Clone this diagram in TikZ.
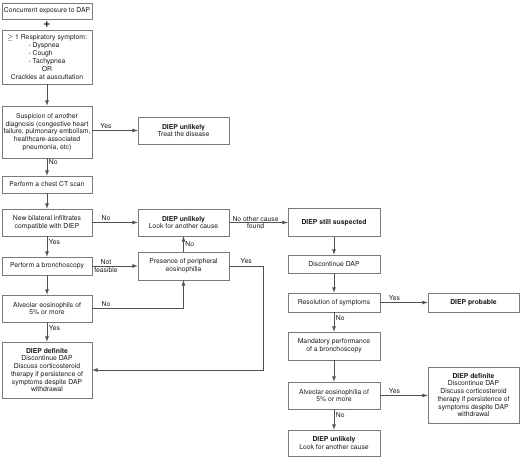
\documentclass[tikz,border=0pt]{standalone}
\usepackage{fontspec}
\setmainfont{TeX Gyre Heros}
\usepackage{tikz}

\definecolor{bordo}{HTML}{7A7A7A}
\definecolor{linea}{HTML}{505050}
\definecolor{testo}{HTML}{1A1A1A}

\begin{document}
\begin{tikzpicture}[>=latex, x=1pt, y=-1pt,
	box/.style={draw=bordo, line width=0.7pt, text=testo, align=center,
		inner sep=0.5pt, minimum width=#1,
		font=\fontsize{6.8}{7.7}\selectfont},
	box/.default=90pt,
	lab/.style={text=testo, inner sep=1.5pt, align=center,
		font=\fontsize{6.8}{7.7}\selectfont},
	freccia/.style={->, draw=linea, line width=0.8pt}]
			%%%	Bounding box
			\useasboundingbox (0,0) rectangle (520,457);
			%%%	Colonna sinistra
			\node[box, minimum height=16pt] (expo) at (47,11) {Concurrent exposure to DAP};
			\node[text=testo, font=\bfseries\large] (plus) at (47,24.5) {+};
			\node[box, minimum height=54pt] (symp) at (47,57)
				{$\geq$ 1 Respiratory symptom:\\
				\begin{tabular}{@{}l@{}}- Dyspnea\\- Cough\\- Tachypnea\end{tabular}\hspace*{14pt}\\
				OR\\Crackles at auscultation};
			\node[box, minimum height=52pt] (susp) at (47,132)
				{Suspicion of another\\diagnosis (congestive heart\\failure, pulmonary embolism,\\healthcare-associated\\pneumonia, etc)};
			\node[box, minimum height=17pt] (ct) at (47,184.5) {Perform a chest CT scan};
			\node[box, minimum height=27pt] (infil) at (47,222.5) {New bilateral infiltrates\\compatible with DIEP};
			\node[box, minimum height=18pt] (bronch) at (47,266) {Perform a bronchoscopy};
			\node[box, minimum height=27pt] (alv) at (47,308.5) {Alveolar eosinophils of\\5\% or more};
			\node[box, minimum height=56pt] (def1) at (47,370)
				{\textbf{DIEP definite}\\Discontinue DAP\\Discuss corticosteroid\\therapy if persistence of\\symptoms despite DAP\\withdrawal};
			%%%	Colonna centrale
			\node[box=91pt, minimum height=27pt] (treat) at (183.5,130.5) {\textbf{DIEP unlikely}\\Treat the disease};
			\node[box=91pt, minimum height=27pt] (look1) at (183.5,222.5) {\textbf{DIEP unlikely}\\Look for another cause};
			\node[box=91pt, minimum height=28pt] (periph) at (183.5,266) {Presence of peripheral\\eosinophilia};
			\coordinate (turn) at (263,266);
			%%%	Colonna destra
			\node[box=92pt, minimum height=28pt] (still) at (334,222.5) {\textbf{DIEP still suspected}};
			\node[box=92pt, minimum height=18pt] (disc) at (334,264) {Discontinue DAP};
			\node[box=92pt, minimum height=19pt] (resol) at (334,302.5) {Resolution of symptoms};
			\node[box=92pt, minimum height=28pt] (mand) at (334,346) {Mandatory performance\\of a bronchoscopy};
			\node[box=92pt, minimum height=27pt] (alv2) at (334,395.5) {Alveolar eosinophilia of\\5\% or more};
			\node[box=92pt, minimum height=26pt] (look2) at (334,443) {\textbf{DIEP unlikely}\\Look for another cause};
			\node[box=91pt, minimum height=19pt] (prob) at (473.5,302.5) {\textbf{DIEP probable}};
			\node[box=91pt, minimum height=56pt] (def2) at (473.5,395)
				{\textbf{DIEP definite}\\Discontinue DAP\\Discuss corticosteroid\\therapy if persistence of\\symptoms despite DAP\\withdrawal};
			%%%	Frecce
			\draw[freccia] (symp) -- (susp);
			\draw[freccia] (susp.east |- treat.west) -- node[lab, above, pos=0.3] {Yes} (treat.west);
			\draw[freccia] (susp) -- node[lab, right, pos=0.2] {No} (ct);
			\draw[freccia] (ct) -- (infil);
			\draw[freccia] (infil) -- node[lab, above, pos=0.3] {No} (look1);
			\draw[freccia] (look1) -- node[lab, pos=0.45] {No other cause\\found} (still);
			\draw[freccia] (infil) -- node[lab, right, pos=0.3] {Yes} (bronch);
			\draw[freccia] (bronch) -- node[lab, pos=0.3] {Not\\feasible} (periph);
			\draw[freccia] (periph) -- node[lab, right] {No} (look1);
			\draw[freccia] (bronch) -- (alv);
			\draw[freccia] (alv.east) -- node[lab, above, pos=0.15] {No} (alv.east -| periph.south) -- (periph.south);
			\draw[freccia] (alv) -- node[lab, right, pos=0.3] {Yes} (def1);
			\draw[freccia] (periph.east) -- node[lab, above] {Yes} (turn) |- (def1.east);
			\draw[freccia] (still) -- (disc);
			\draw[freccia] (disc) -- (resol);
			\draw[freccia] (resol) -- node[lab, above, pos=0.3] {Yes} (prob);
			\draw[freccia] (resol) -- node[lab, right, pos=0.3] {No} (mand);
			\draw[freccia] (mand) -- (alv2);
			\draw[freccia] (alv2.east) -- node[lab, above, pos=0.3] {Yes} (alv2.east -| def2.west);
			\draw[freccia] (alv2) -- node[lab, right, pos=0.3] {No} (look2);
		\end{tikzpicture}
\end{document}
